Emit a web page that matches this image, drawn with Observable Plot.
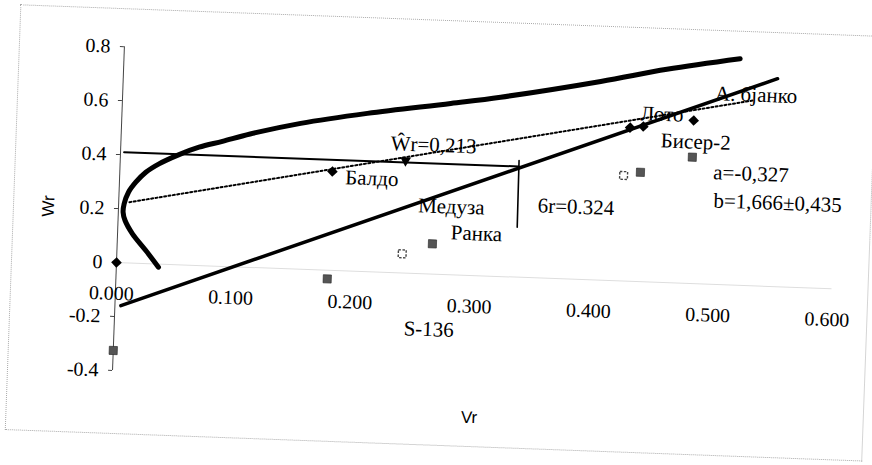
<!DOCTYPE html>
<html><head><meta charset="utf-8">
<script src="https://cdn.jsdelivr.net/npm/d3@7"></script>
<script src="https://cdn.jsdelivr.net/npm/@observablehq/plot@0.6"></script>
<style>
html,body{margin:0;padding:0;background:#fff;overflow:hidden}
#wrap{position:relative;width:872px;height:465px;transform:rotate(2.1deg);transform-origin:116px 262px}
#border{position:absolute;left:11px;top:8px;width:858px;height:426px;border:1px dotted #aaa;box-sizing:border-box}
#wrap svg{position:absolute;left:0;top:0}
</style></head><body><div id="wrap"><div id="border"></div></div>
<script>
// Axis ticks
const xTicks = [0, 0.1, 0.2, 0.3, 0.4, 0.5, 0.6];
const xTickLabels = ["0.000", "0.100", "0.200", "0.300", "0.400", "0.500", "0.600"];
const yTicks = [-0.4, -0.2, 0, 0.2, 0.4, 0.6, 0.8];
const yTickLabels = ["-0.4", "-0.2", "0", "0.2", "0.4", "0.6", "0.8"];

// Parents (diamonds)
const parentV = [0.000, 0.178, 0.426, 0.437, 0.479];
const parentW = [0.000, 0.366, 0.569, 0.575, 0.604];

// Grey squares
const squareV = [0.000, 0.177, 0.264, 0.436, 0.479];
const squareW = [-0.326, -0.032, 0.112, 0.405, 0.468];
const openSquareV = [0.239, 0.422];
const openSquareW = [0.071, 0.391];

// Mean marker (inverted triangle)
const meanV = [0.239];
const meanW = [0.417];

// Regression line
const regV = [0.005, 0.548];
const regW = [-0.159, 0.770];

// Dotted line
const dotV = [0.009, 0.528];
const dotW = [0.225, 0.686];

// Horizontal and vertical guide lines
const hLineV = [0.003, 0.334];
const hLineW = [0.409, 0.410];
const vLineV = [0.334, 0.3345];
const vLineW = [0.432, 0.185];

// Limiting curve (thick)
const curveV = [0.0353, 0.0242, 0.0125, 0.0059, 0.0040, 0.0046, 0.0079, 0.0137, 0.0218, 0.0326, 0.0491, 0.0656, 0.085, 0.108, 0.150, 0.2055, 0.275, 0.3166, 0.400, 0.455, 0.516];
const curveW = [-0.0117, 0.0484, 0.1084, 0.1566, 0.187, 0.2183, 0.2618, 0.2998, 0.338, 0.371, 0.408, 0.438, 0.463, 0.494, 0.540, 0.586, 0.634, 0.664, 0.736, 0.790, 0.839];

// Annotations
const labelText = ["Балдо", "Ŵr=0,213", "Медуза", "Ранка", "6r=0.324", "Лото", "А. бјанко", "Бисер-2", "a=-0,327", "b=1,666±0,435", "S-136"];
const labelV = [0.189, 0.226, 0.251, 0.279, 0.351, 0.434, 0.496, 0.452, 0.497, 0.498, 0.2425];
const labelW = [0.346, 0.478, 0.252, 0.156, 0.268, 0.623, 0.707, 0.525, 0.414, 0.310, -0.205];

const zip = (a, b) => a.map((v, i) => ({v, w: b[i]}));
const serif = "'Liberation Serif', 'Times New Roman', serif";
const sans = "'Liberation Sans', Arial, sans-serif";

const chart = Plot.plot({
  width: 872,
  height: 465,
  marginLeft: 116,
  marginRight: 40,
  marginTop: 46,
  marginBottom: 95,
  style: {fontFamily: serif, fontSize: "20px", background: "transparent", overflow: "visible"},
  x: {domain: [0, 0.6], axis: null},
  y: {domain: [-0.4, 0.8], axis: null},
  marks: [
    Plot.ruleY([0], {x1: 0, x2: 0.6, stroke: "#dedede", strokeWidth: 1}),
    Plot.ruleX([0], {y1: -0.4, y2: 0.8, stroke: "#444", strokeWidth: 1}),
    Plot.ruleY(yTicks, {y: d => d, x1: 0, x2: 0, insetLeft: -4, stroke: "#444", strokeWidth: 1}),
    Plot.text(yTicks, {x: 0, y: d => d, dx: -14, textAnchor: "end", lineAnchor: "middle", text: (d, i) => yTickLabels[i], fill: "black", fontFamily: serif, fontSize: 20}),
    Plot.text(xTicks, {x: d => d, y: 0, dy: 31, dx: -4, text: (d, i) => xTickLabels[i], fill: "black", fontFamily: serif, fontSize: 20}),
    Plot.text(["Wr"], {frameAnchor: "left", dx: -70, rotate: -90, textAnchor: "middle", lineAnchor: "middle", fontFamily: sans, fontSize: 17}),
    Plot.text(["Vr"], {frameAnchor: "bottom", dy: 34, textAnchor: "middle", lineAnchor: "middle", fontFamily: sans, fontSize: 17}),
    Plot.line(zip(curveV, curveW), {x: "v", y: "w", curve: "catmull-rom", stroke: "black", strokeWidth: 5}),
    Plot.line(zip(regV, regW), {x: "v", y: "w", stroke: "black", strokeWidth: 3.5}),
    Plot.line(zip(dotV, dotW), {x: "v", y: "w", stroke: "black", strokeWidth: 2, strokeDasharray: "2,2.4"}),
    Plot.line(zip(hLineV, hLineW), {x: "v", y: "w", stroke: "black", strokeWidth: 2}),
    Plot.line(zip(vLineV, vLineW), {x: "v", y: "w", stroke: "black", strokeWidth: 1.6}),
    Plot.dot(zip(squareV, squareW), {x: "v", y: "w", symbol: "square", r: 4.6, fill: "#555", stroke: "#222", strokeWidth: 0.6}),
    Plot.dot(zip(openSquareV, openSquareW), {x: "v", y: "w", symbol: "square", r: 4.4, fill: "white", stroke: "#444", strokeWidth: 1.4, strokeDasharray: "2.5,1.5"}),
    Plot.dot(zip(parentV, parentW), {x: "v", y: "w", symbol: "diamond2", r: 4.8, fill: "black"}),
    Plot.dot(zip(meanV, meanW), {x: "v", y: "w", symbol: "triangle", r: 4, fill: "black", rotate: 180}),
    Plot.text(labelText, {x: (d, i) => labelV[i], y: (d, i) => labelW[i], text: d => d, textAnchor: "start", lineAnchor: "middle", fill: "black", fontFamily: serif, fontSize: 21})
  ]
});
document.getElementById("wrap").appendChild(chart);
</script>
</body></html>
